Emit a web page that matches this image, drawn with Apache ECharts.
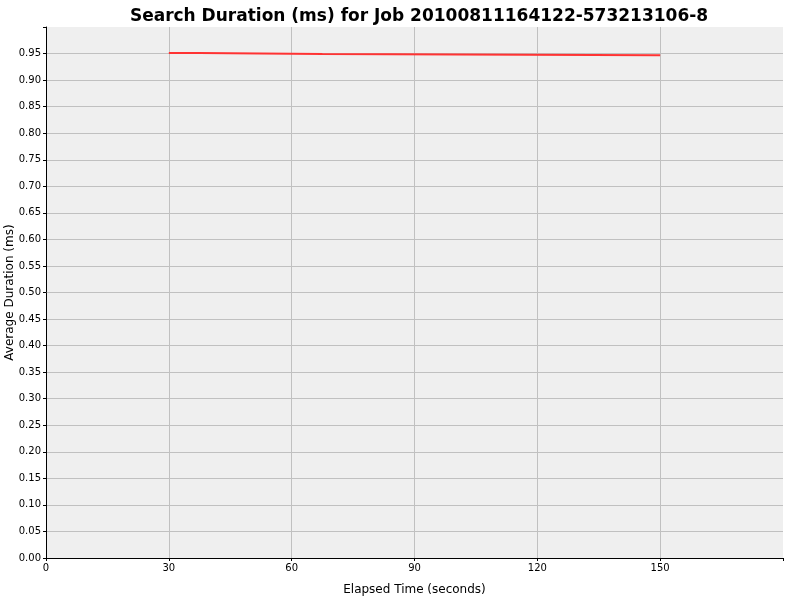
<!DOCTYPE html>
<html>
<head>
<meta charset="utf-8">
<script src="https://cdn.jsdelivr.net/npm/echarts@6/dist/echarts.min.js"></script>
<style>html,body{margin:0;padding:0;background:#fff}#c{width:800px;height:600px}</style>
</head>
<body>
<div id="c"></div>
<script>
const titleText = "Search Duration (ms) for Job 20100811164122-573213106-8";
const elapsedSeconds = [30, 37.5, 67.5, 150];
const avgDuration = [0.951, 0.949, 0.947, 0.947];
const xLabel = "Elapsed Time (seconds)";
const yLabel = "Average Duration (ms)";

// step-after path: hold each value until the next sample
const stepData = [];
elapsedSeconds.forEach((x, i) => {
  if (i > 0) stepData.push([x, avgDuration[i - 1]]);
  stepData.push([x, avgDuration[i]]);
});

const chart = echarts.init(document.getElementById('c'));
chart.setOption({
  backgroundColor: '#ffffff',
  animation: false,
  title: {
    text: titleText, left: 414, top: 3, textAlign: 'center',
    textStyle: {fontFamily: 'DejaVu Sans', fontWeight: 'bold', fontSize: 17, color: '#000'}
  },
  grid: {left: 46, right: 17, top: 27, bottom: 42, containLabel: false, outerBoundsMode: 'none',
    show: true, backgroundColor: '#efefef', borderWidth: 0},
  xAxis: {
    type: 'value', min: 0, max: 180, interval: 30,
    name: xLabel, nameLocation: 'middle', nameGap: 26, nameMoveOverlap: false,
    nameTextStyle: {fontFamily: 'DejaVu Sans', fontSize: 12, color: '#000'},
    axisLine: {show: true, lineStyle: {color: '#000', width: 1}},
    axisTick: {show: true, length: 3, lineStyle: {color: '#000'}},
    axisLabel: {fontFamily: 'DejaVu Sans', fontSize: 10, color: '#000', margin: 5,
      formatter: v => v >= 180 ? '' : String(v)},
    splitLine: {show: true, showMinLine: false, showMaxLine: false, lineStyle: {color: '#c0c0c0', width: 1}}
  },
  yAxis: {
    type: 'value', min: 0, max: 1, interval: 0.05,
    name: yLabel, nameLocation: 'middle', nameGap: 30, nameMoveOverlap: false,
    nameTextStyle: {fontFamily: 'DejaVu Sans', fontSize: 12, color: '#000'},
    axisLine: {show: true, lineStyle: {color: '#000', width: 1}},
    axisTick: {show: true, length: 3, lineStyle: {color: '#000'}},
    axisLabel: {fontFamily: 'DejaVu Sans', fontSize: 10, color: '#000', margin: 5,
      formatter: v => v >= 0.999 ? '' : v.toFixed(2)},
    splitLine: {show: true, showMinLine: false, showMaxLine: false, lineStyle: {color: '#c0c0c0', width: 1}}
  },
  series: [{
    type: 'line', showSymbol: false,
    data: stepData,
    lineStyle: {color: '#ff3333', width: 2},
    itemStyle: {color: '#ff3333'}
  }]
});
</script>
</body>
</html>
